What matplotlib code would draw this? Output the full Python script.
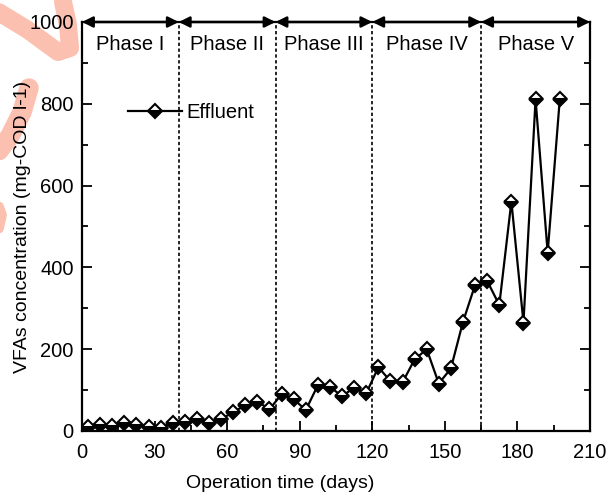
import matplotlib
matplotlib.use("Agg")
import matplotlib.pyplot as plt
from matplotlib.lines import Line2D

plt.rcParams['font.family'] = ['Liberation Sans', 'DejaVu Sans']

# data
days = [2.5, 7.5, 12.5, 17.5, 22.5, 27.5, 32.5, 37.5,
        42.5, 47.5, 52.5, 57.5, 62.5, 67.5, 72.5, 77.5,
        82.5, 87.5, 92.5, 97.5, 102.5, 107.5, 112.5, 117.5,
        122.5, 127.5, 132.5, 137.5, 142.5, 147.5, 152.5, 157.5, 162.5,
        167.5, 172.5, 177.5, 182.5, 187.5, 192.5, 197.5]
effluent = [11, 15, 13, 19, 15, 11, 8, 19,
            21, 29, 19, 29, 46, 63, 72, 53,
            90, 78, 51, 112, 108, 85, 106, 92,
            156, 122, 119, 175, 200, 116, 153, 267, 357,
            367, 308, 561, 265, 811, 436, 811]

phase_edges = [0, 40, 80, 120, 165, 210]
phase_names = ['Phase I', 'Phase II', 'Phase III', 'Phase IV', 'Phase V']

W, H = 611, 495
fig = plt.figure(figsize=(W / 100, H / 100), dpi=100)
ax = fig.add_axes([82 / W, 1 - 431 / H, 508 / W, 409 / H])

# pink brush stroke on the left margin
def px(xs, ys):
    return [x / W for x in xs], [1 - y / H for y in ys]

pink = '#fbc0b0'
for xs, ys, w in [([-8, 28, 58, 70, 68, 63], [8, 30, 52, 48, 25, 2], 13),
                  ([29, 22, 10, -2], [88, 112, 136, 152], 14),
                  ([-4, 2, -2], [198, 215, 233], 7)]:
    fx, fy = px(xs, ys)
    fig.add_artist(Line2D(fx, fy, color=pink, lw=w, solid_capstyle='round',
                          solid_joinstyle='round', zorder=-1))

ax.plot(days, effluent, color='black', lw=1.6, marker='D', ms=7.5,
        mew=1.5, mec='black', mfc='black', mfcalt='white',
        fillstyle='bottom', label='Effluent', zorder=3)

for x in phase_edges[1:-1]:
    ax.plot([x, x], [0, 1000], color='black', lw=1.2, ls=(0, (2, 1.5)), zorder=2)

for i, name in enumerate(phase_names):
    a, b = phase_edges[i], phase_edges[i + 1]
    ax.annotate('', xy=(b, 1000), xytext=(a, 1000),
                arrowprops=dict(arrowstyle='<|-|>', color='black', lw=1.8,
                                mutation_scale=16, shrinkA=0, shrinkB=0),
                annotation_clip=False)
    ax.text((a + b) / 2, 946, name, ha='center', va='center', fontsize=14.5)

ax.set_xlim(0, 210)
ax.set_ylim(0, 1000)
ax.set_xticks([0, 30, 60, 90, 120, 150, 180, 210])
ax.set_xticks(range(15, 210, 30), minor=True)
ax.set_yticks([0, 200, 400, 600, 800, 1000])
ax.set_yticks([100, 300, 500, 700, 900], minor=True)
ax.tick_params(which='both', direction='in', right=True, top=False,
               labelsize=14.5, width=1.3)
ax.tick_params(which='major', length=7)
ax.tick_params(which='minor', length=4)
ax.tick_params(axis='x', pad=9)
ax.tick_params(axis='y', pad=6)
for s in ax.spines.values():
    s.set_linewidth(1.6)

ax.set_xlabel('Operation time (days)', fontsize=14)
ax.xaxis.set_label_coords(0.39, -0.108)
ax.set_ylabel('VFAs concentration (mg-COD l-1)', fontsize=14)
ax.yaxis.set_label_coords(-0.1, 0.5)

ax.legend(loc='center left', bbox_to_anchor=((128 - 82) / 508, (431 - 113) / 409),
          frameon=False, fontsize=14.5, handlelength=2.7, handletextpad=0.2,
          borderpad=0, borderaxespad=0, numpoints=1)

fig.savefig('out.png', dpi=100)
